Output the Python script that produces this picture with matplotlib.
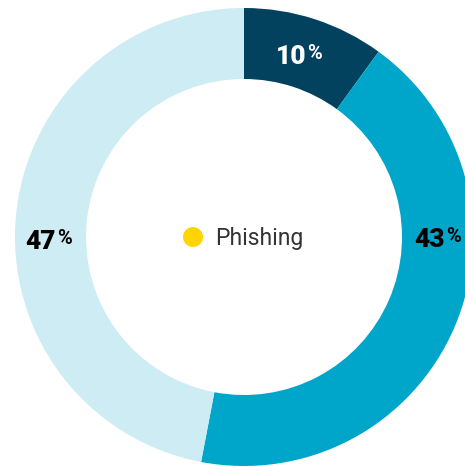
import matplotlib
matplotlib.use('Agg')
from matplotlib import pyplot as plt
from matplotlib.patches import Circle

shares = [10, 43, 47]
colors = ['#02425f', '#00a6ca', '#cdecf3']
label_colors = ['white', 'black', 'black']
# where each share label sits (right end of number, baseline) in pixels from top-left
label_pos = [(306, 64), (445, 247), (56, 249)]
legend_label = 'Phishing'
legend_color = '#ffd400'

W, H = 465, 466
cx, cy = 244, 237
r_out, r_in = 229, 158


def draw_donut():
    ''' donut chart with one-word legend in the hole '''
    fig = plt.figure(figsize=(W / 100, H / 100), dpi=100)
    ax = fig.add_axes([0, 0, 1, 1])

    ax.pie(shares, colors=colors, startangle=90, counterclock=False,
           center=(cx, H - cy), radius=r_out,
           wedgeprops=dict(width=r_out - r_in, edgecolor='none'),
           frame=True)
    ax.set_xlim(0, W)
    ax.set_ylim(0, H)
    ax.set_aspect('equal')
    ax.axis('off')

    for val, (x, y), c in zip(shares, label_pos, label_colors):
        ax.text(x, H - y, str(val), ha='right', va='baseline', color=c,
                fontsize=19, fontweight='heavy', family='Roboto')
        # smaller percent sign, top-aligned with the digits
        ax.text(x + 1, H - y + 5, '%', ha='left', va='baseline', color=c,
                fontsize=14.5, fontweight='bold', family='Roboto')

    ax.add_patch(Circle((193, H - 237), 10, color=legend_color, lw=0))
    ax.text(215, H - 245, legend_label, ha='left', va='baseline',
            color='#333333', fontsize=16.5, family='Roboto')

    fig.savefig('out.png', dpi=100)


if __name__ == '__main__':
    draw_donut()
